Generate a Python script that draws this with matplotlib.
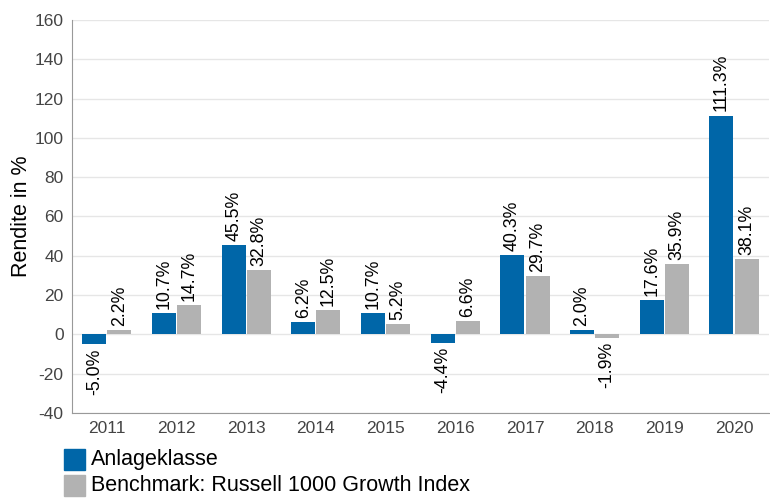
import matplotlib
matplotlib.use("Agg")
import matplotlib.pyplot as plt
import numpy as np
from matplotlib.patches import Rectangle

plt.rcParams["font.family"] = ["Liberation Sans", "DejaVu Sans"]
plt.rcParams["axes.unicode_minus"] = False

years = ["2011", "2012", "2013", "2014", "2015", "2016", "2017", "2018", "2019", "2020"]
anlage = [-5.0, 10.7, 45.5, 6.2, 10.7, -4.4, 40.3, 2.0, 17.6, 111.3]
bench = [2.2, 14.7, 32.8, 12.5, 5.2, 6.6, 29.7, -1.9, 35.9, 38.1]
series_names = ["Anlageklasse", "Benchmark: Russell 1000 Growth Index"]
colors = ["#0066a8", "#b2b2b2"]

fig = plt.figure(figsize=(7.7, 4.98), dpi=100)
ax = fig.add_axes([0.0935, 0.171, 0.905, 0.789])

x = np.arange(len(years))
w = 0.345
for vals, off, col in [(anlage, -w / 2 - 0.008, colors[0]), (bench, w / 2 + 0.008, colors[1])]:
    bars = ax.bar(x + off, vals, width=w, color=col, zorder=3)
    for b, v in zip(bars, vals):
        cx = b.get_x() + b.get_width() / 2
        if v >= 0:
            ax.annotate(f"{v:.1f}%", (cx, v), xytext=(0, 3), textcoords="offset points",
                        rotation=90, ha="center", va="bottom", fontsize=12.8, zorder=4)
        else:
            ax.annotate(f"{v:.1f}%", (cx, v), xytext=(0, -3), textcoords="offset points",
                        rotation=90, ha="center", va="top", fontsize=12.8, zorder=4)

ax.set_xlim(-0.5, len(years) - 0.5)
ax.set_ylim(-40, 160)
ax.set_yticks(range(-40, 161, 20))
ax.set_xticks(x)
ax.set_xticklabels(years)
ax.yaxis.grid(True, color="#e6e6e6", linewidth=1, zorder=0)
ax.set_axisbelow(True)
for s in ["top", "right"]:
    ax.spines[s].set_visible(False)
for s in ["left", "bottom"]:
    ax.spines[s].set_color("#999999")
ax.tick_params(axis="both", length=0, labelsize=12.5, colors="#444444", pad=6)
ax.set_ylabel("Rendite in %", fontsize=15.5, labelpad=2)

# legend below the plot
for i, (name, col) in enumerate(zip(series_names, colors)):
    y0 = 1 - (470 + i * 26) / 498
    fig.patches.append(Rectangle((64 / 770, y0), 21 / 770, 21 / 498, color=col,
                                 transform=fig.transFigure, figure=fig))
    fig.text(91 / 770, y0 + 10.5 / 498, name, fontsize=15.5, va="center", ha="left")

fig.savefig("out.png", dpi=100)
